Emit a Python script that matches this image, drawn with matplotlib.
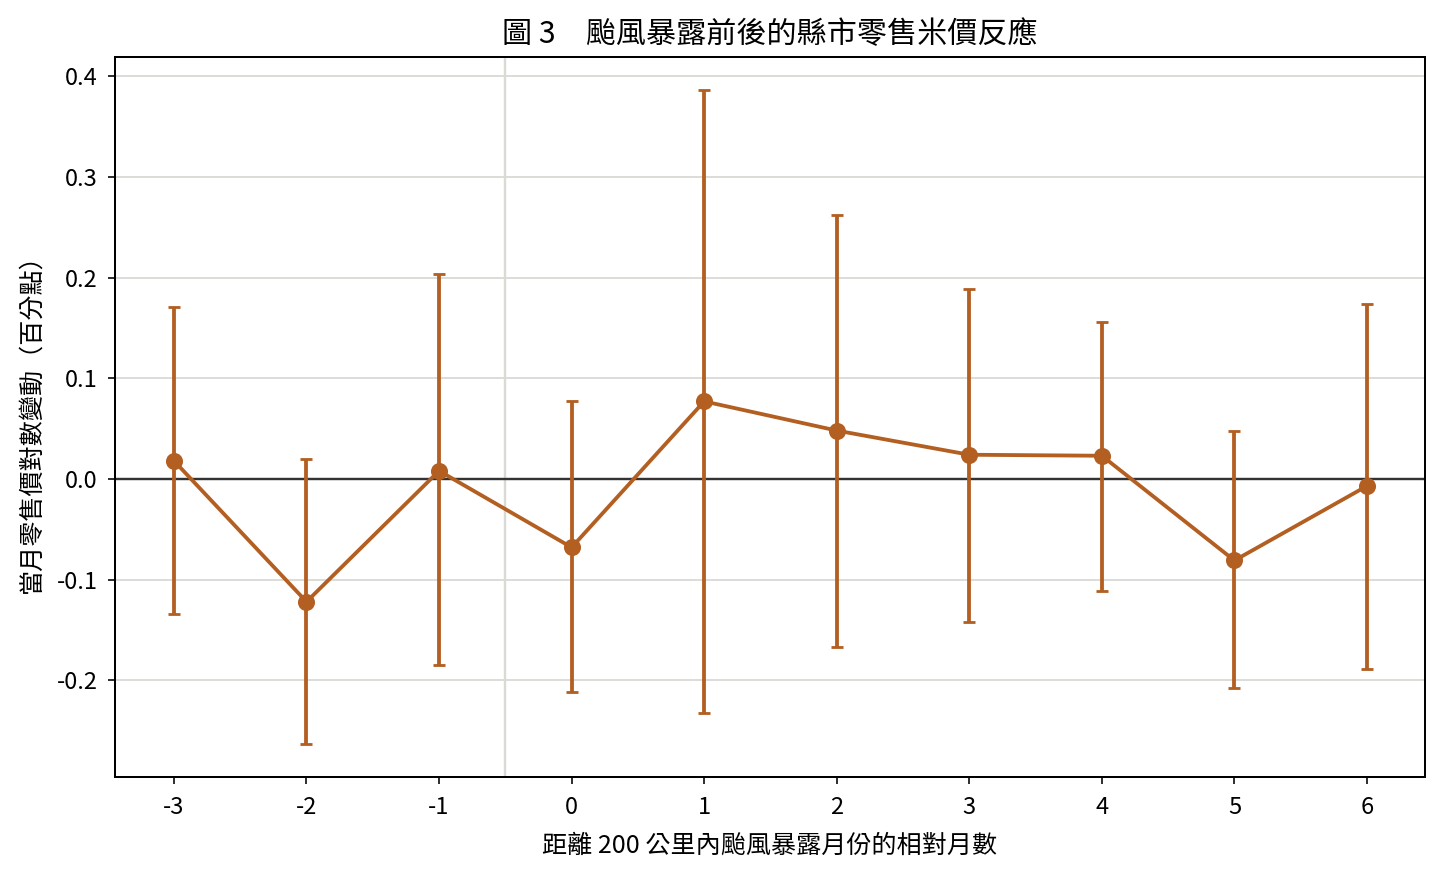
import numpy as np
import matplotlib
matplotlib.use("Agg")
import matplotlib.pyplot as plt

plt.rcParams["font.family"] = ["Noto Sans CJK TC", "DejaVu Sans"]
plt.rcParams["axes.unicode_minus"] = False

# relative month vs. coefficient with 95% CI
months = [-3, -2, -1, 0, 1, 2, 3, 4, 5, 6]
coef = [0.018, -0.122, 0.008, -0.068, 0.077, 0.048, 0.024, 0.023, -0.081, -0.007]
ci_low = [-0.134, -0.263, -0.185, -0.212, -0.232, -0.167, -0.142, -0.111, -0.208, -0.189]
ci_high = [0.171, 0.020, 0.203, 0.077, 0.386, 0.262, 0.189, 0.156, 0.048, 0.174]
yticks = [-0.2, -0.1, 0.0, 0.1, 0.2, 0.3, 0.4]

COLOR = "#b35f22"

fig = plt.figure(figsize=(10, 875 / 144.4), dpi=144.4)
ax = fig.add_axes([0.0796, 0.112, 0.9072, 0.8229])

c = np.array(coef)
yerr = [c - np.array(ci_low), np.array(ci_high) - c]
ax.errorbar(months, coef, yerr=yerr, color=COLOR, lw=1.9, marker="o", ms=7.5,
            capsize=3, capthick=1.4, elinewidth=1.9, zorder=3)

ax.axhline(0, color="#333333", lw=1.2, zorder=2)
ax.axvline(-0.5, color="#d9d9d6", lw=1.2, zorder=1)
ax.set_yticks(yticks)
ax.set_yticklabels([f"{v:.1f}" for v in yticks])
ax.set_xticks(months)
ax.set_xticklabels([str(m) for m in months])
ax.grid(axis="y", color="#d9d9d6", lw=0.9, zorder=0)
ax.set_axisbelow(True)
ax.set_xlim(-3.445, 6.437)
ax.set_ylim(-0.296, 0.419)
ax.tick_params(labelsize=11.8, pad=5)
ax.tick_params(axis="x", pad=6)
for s in ax.spines.values():
    s.set_linewidth(1.0)

ax.set_xlabel("距離 200 公里內颱風暴露月份的相對月數", fontsize=12.5, labelpad=7)
ax.set_ylabel("當月零售價對數變動（百分點）", fontsize=12.5, labelpad=6)
ax.set_title("圖 3　颱風暴露前後的縣市零售米價反應", fontsize=15, pad=7)

fig.savefig("out.png", dpi=144.4)
